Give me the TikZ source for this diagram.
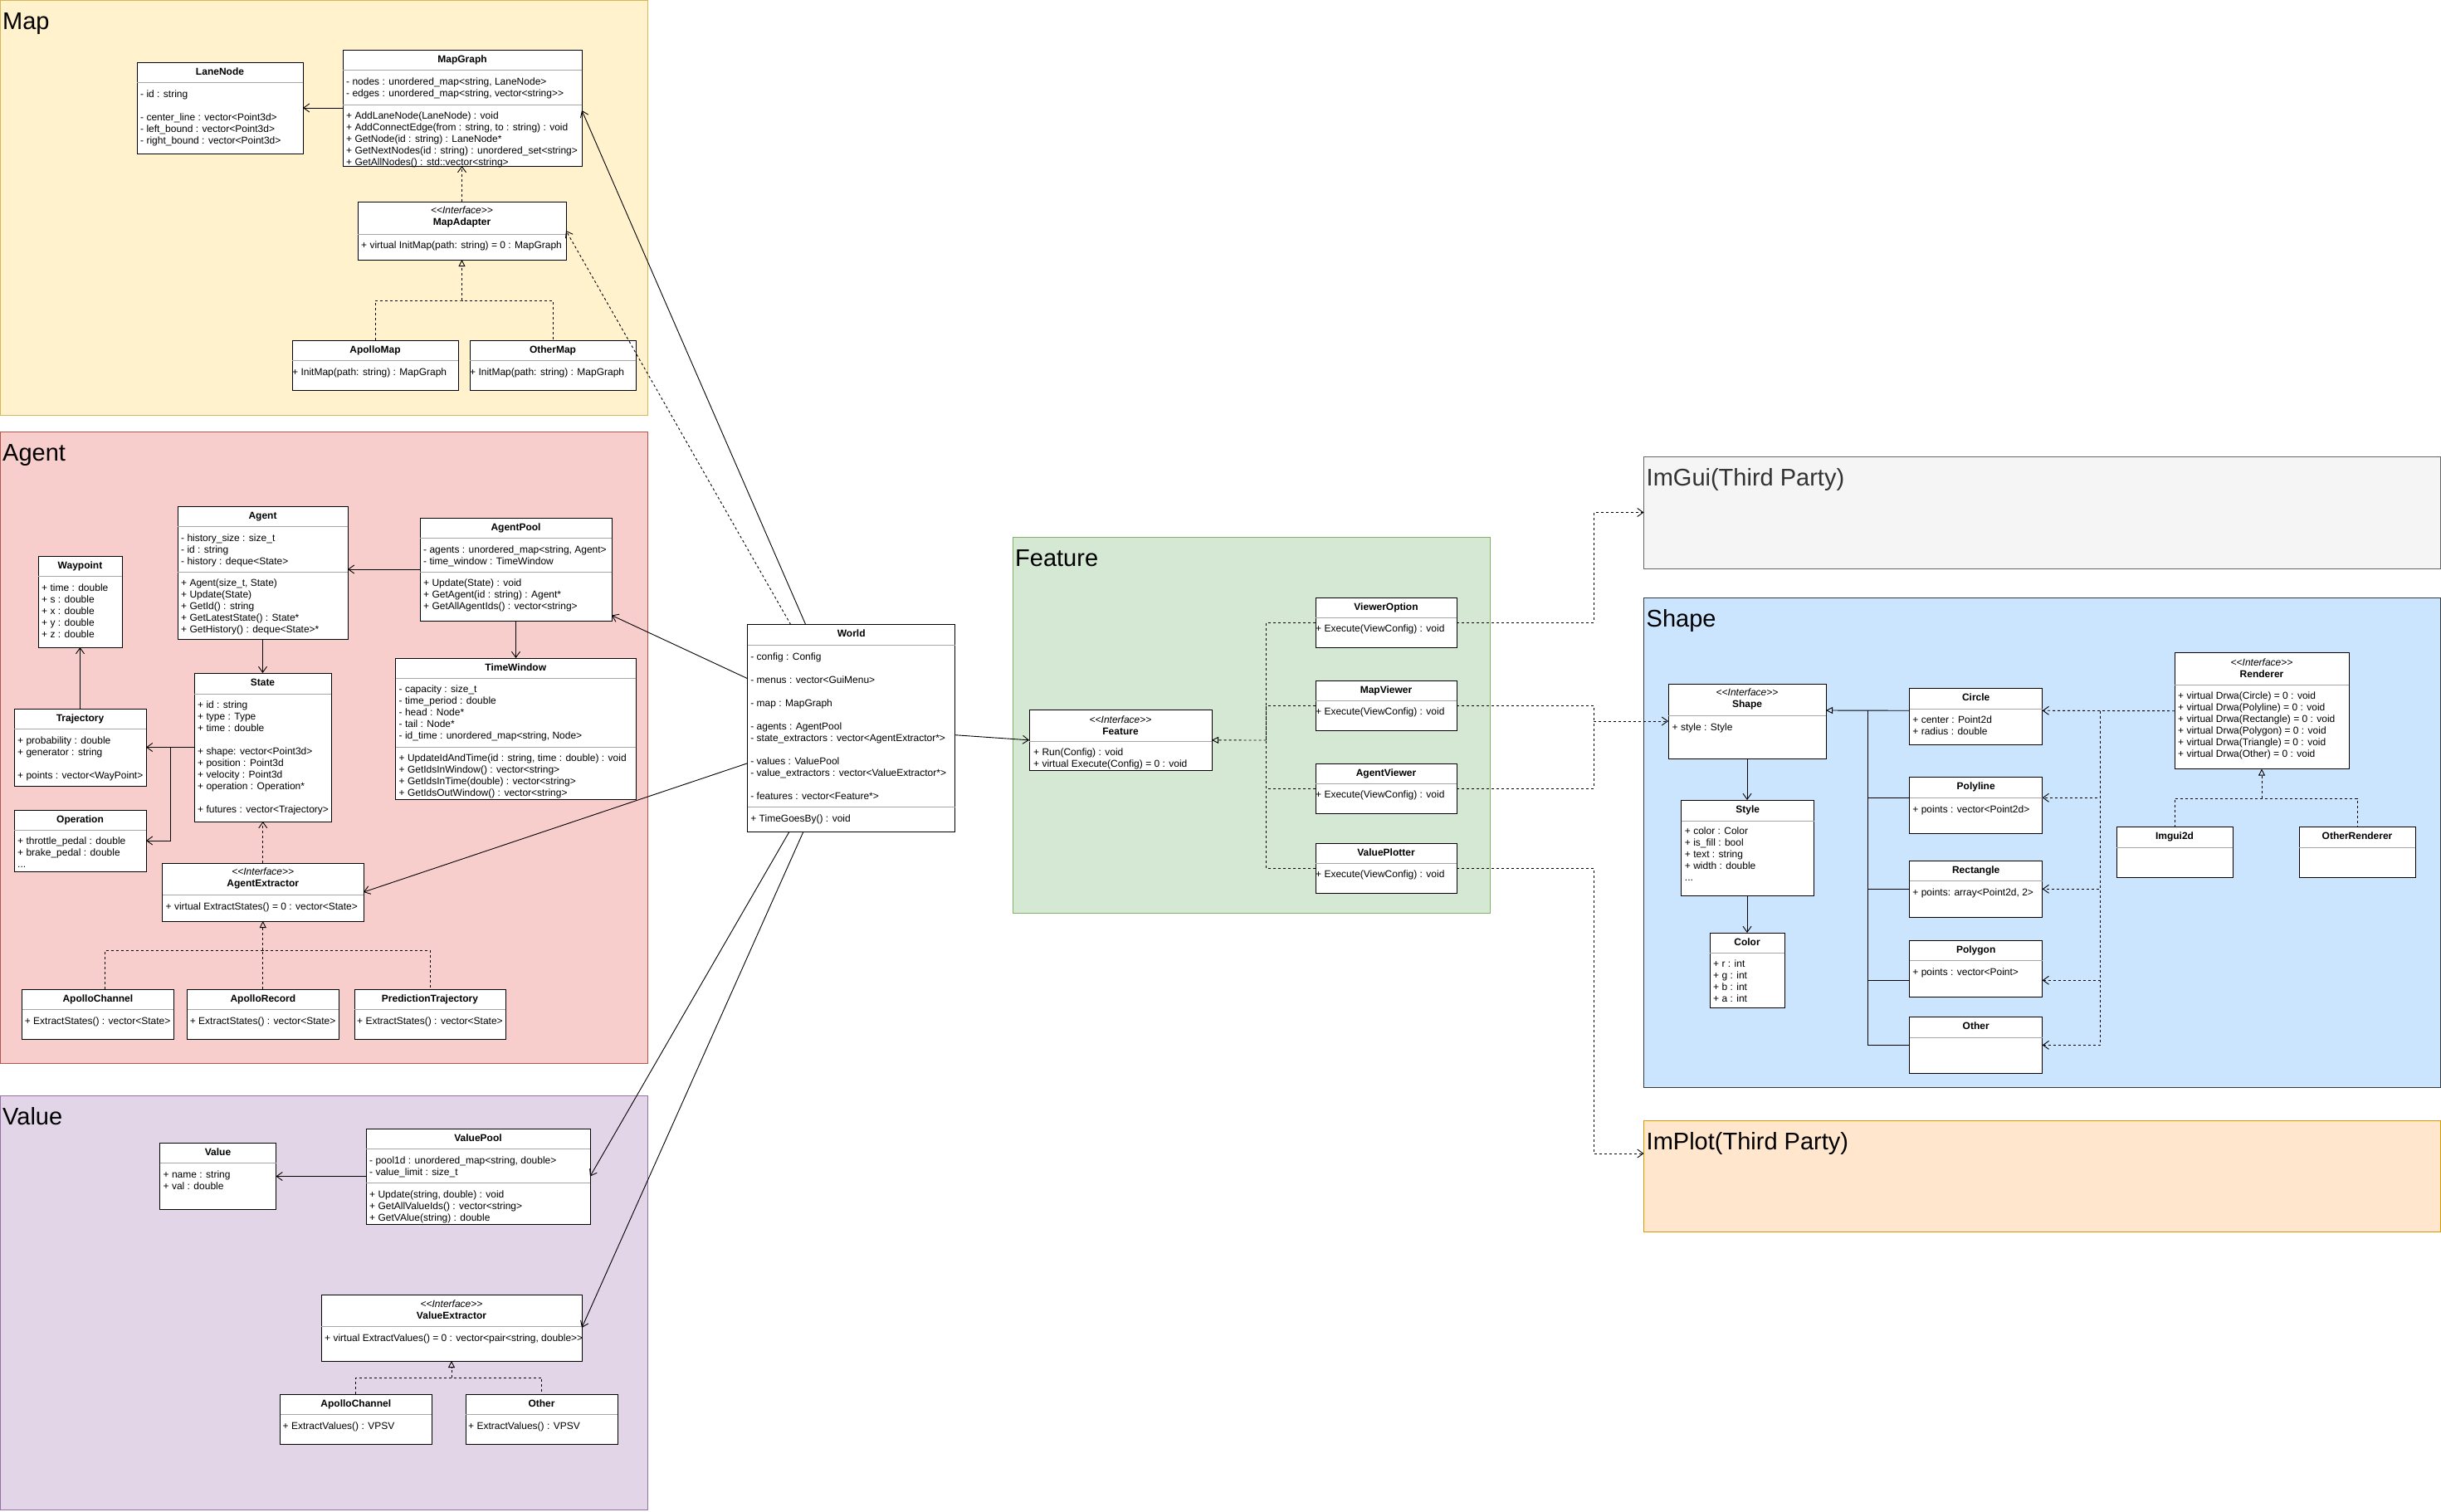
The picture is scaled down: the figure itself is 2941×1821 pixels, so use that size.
\documentclass[tikz,border=0pt]{standalone}
\usepackage{fontspec}
\newfontfamily\umlfont{Liberation Sans}
\usepackage{tikz}
\usetikzlibrary{calc,arrows.meta}

\definecolor{mapfill}{HTML}{FFF2CC}\definecolor{mapline}{HTML}{D6B656}
\definecolor{agentfill}{HTML}{F8CECC}\definecolor{agentline}{HTML}{B85450}
\definecolor{valuefill}{HTML}{E1D5E7}\definecolor{valueline}{HTML}{9673A6}
\definecolor{featfill}{HTML}{D5E8D4}\definecolor{featline}{HTML}{82B366}
\definecolor{guifill}{HTML}{F5F5F5}\definecolor{guiline}{HTML}{666666}\definecolor{guitext}{HTML}{333333}
\definecolor{shapefill}{HTML}{CCE5FF}\definecolor{shapeline}{HTML}{36393D}
\definecolor{plotfill}{HTML}{FFE6CC}\definecolor{plotline}{HTML}{D79B00}

\newcommand{\mstrut}{\rule{0pt}{10pt}}
% class box: name, x, y, width, height, header height
\newcommand{\umlbox}[6]{%
  \node[clsbox,minimum width=#4,minimum height=#5] (#1) at (#2,#3) {};
  \draw[sepline] ($(#1.north west)+(0,#6)$) -- ($(#1.north east)+(0,#6)$);}
\newcommand{\umlsep}[2]{%
  \draw[sepline] ($(#1.north west)+(0,#2)$) -- ($(#1.north east)+(0,#2)$);}

\tikzset{
  clsbox/.style={draw=black,fill=white,line width=1pt,anchor=north west,inner sep=0pt,outer sep=0pt},
  sepline/.style={draw=black!35,line width=0.8pt},
  ttl/.style={font=\umlfont\bfseries\fontsize{12}{14}\selectfont,inner sep=0pt,text height=9pt,text depth=2.5pt},
  ittl/.style={font=\umlfont\fontsize{12}{14}\selectfont,inner sep=0pt,align=center},
  members/.style={font=\umlfont\fontsize{12}{14}\selectfont,inner sep=0pt,anchor=north west,align=left},
  grp/.style={line width=1pt,anchor=north west,inner sep=0pt,outer sep=0pt},
  grptitle/.style={font=\umlfont\fontsize{29}{34}\selectfont,anchor=base west,inner sep=0pt},
  link/.style={line width=0.9pt},
  assoc/.style={link,-{Straight Barb[length=7pt,width=10pt]}},
  dashline/.style={link,dash pattern=on 3pt off 3pt},
  dep/.style={assoc,dash pattern=on 3pt off 3pt},
  real/.style={dashline,-{Triangle[open,length=8pt,width=8pt]}},
  inh/.style={link,-{Triangle[open,length=8pt,width=8pt]}}
}

\begin{document}
\begin{tikzpicture}[x=1pt,y=-1pt]
\useasboundingbox (0,0) rectangle (2941,1821);

% packages
\node[grp,fill=mapfill,draw=mapline,minimum width=780,minimum height=500] (mapgrp) at (0,0) {};
\node[grptitle] (mapgrp-t) at ($(mapgrp.north west)+(3,35)$) {Map};
\node[grp,fill=agentfill,draw=agentline,minimum width=780,minimum height=761] (agentgrp) at (0,520) {};
\node[grptitle] (agentgrp-t) at ($(agentgrp.north west)+(3,35)$) {Agent};
\node[grp,fill=valuefill,draw=valueline,minimum width=780,minimum height=499] (valuegrp) at (0,1320) {};
\node[grptitle] (valuegrp-t) at ($(valuegrp.north west)+(3,35)$) {Value};
\node[grp,fill=featfill,draw=featline,minimum width=575,minimum height=453] (featgrp) at (1220,647) {};
\node[grptitle] (featgrp-t) at ($(featgrp.north west)+(3,35)$) {Feature};
\node[grp,fill=guifill,draw=guiline,minimum width=959.5,minimum height=135] (imgui) at (1980.5,550) {};
\node[grptitle,text=guitext] (imgui-t) at ($(imgui.north west)+(3,35)$) {ImGui(Third Party)};
\node[grp,fill=shapefill,draw=shapeline,minimum width=959.5,minimum height=590] (shapegrp) at (1980.5,720) {};
\node[grptitle] (shapegrp-t) at ($(shapegrp.north west)+(3,35)$) {Shape};
\node[grp,fill=plotfill,draw=plotline,minimum width=959.5,minimum height=134] (implot) at (1980.5,1350) {};
\node[grptitle] (implot-t) at ($(implot.north west)+(3,35)$) {ImPlot(Third Party)};

% Map
\umlbox{lanenode}{165}{75}{200}{110}{24}
\node[ttl] (lanenode-t) at ($(lanenode.north)+(0,12)$) {LaneNode};
\node[members] (lanenode-a) at ($(lanenode.north west)+(4,32)$) {\mstrut- id : string\\ \\- center\_line : vector<Point3d>\\- left\_bound : vector<Point3d>\\- right\_bound : vector<Point3d>};
\umlbox{mapgraph}{413}{60}{288}{140}{24}
\umlsep{mapgraph}{66}
\node[ttl] (mapgraph-t) at ($(mapgraph.north)+(0,12)$) {MapGraph};
\node[members] (mapgraph-a) at ($(mapgraph.north west)+(4,32)$) {\mstrut- nodes : unordered\_map<string, LaneNode>\\- edges : unordered\_map<string, vector<string>>};
\node[members] (mapgraph-m) at ($(mapgraph.north west)+(4,73)$) {\mstrut+ AddLaneNode(LaneNode) : void\\+ AddConnectEdge(from : string, to : string) : void\\+ GetNode(id : string) : LaneNode*\\+ GetNextNodes(id : string) : unordered\_set<string>\\+ GetAllNodes() : std::vector<string>};
\umlbox{mapadapter}{431}{243}{251}{70}{39}
\node[ittl] (mapadapter-t) at ($(mapadapter.north)+(0,18)$) {\textit{<<Interface>>}\\\textbf{MapAdapter}};
\node[members] (mapadapter-m) at ($(mapadapter.north west)+(4,46)$) {\mstrut+ virtual InitMap(path: string) = 0 : MapGraph};
\umlbox{apollomap}{352}{410}{200}{60}{24}
\node[ttl] (apollomap-t) at ($(apollomap.north)+(0,12)$) {ApolloMap};
\node[members] (apollomap-m) at ($(apollomap.north west)+(0,32)$) {\mstrut+ InitMap(path: string) : MapGraph};
\umlbox{othermap}{566}{410}{200}{60}{24}
\node[ttl] (othermap-t) at ($(othermap.north)+(0,12)$) {OtherMap};
\node[members] (othermap-m) at ($(othermap.north west)+(0,32)$) {\mstrut+ InitMap(path: string) : MapGraph};

% Agent
\umlbox{agent}{214}{610}{205}{160}{24}
\umlsep{agent}{79}
\node[ttl] (agent-t) at ($(agent.north)+(0,12)$) {Agent};
\node[members] (agent-a) at ($(agent.north west)+(4,32)$) {\mstrut- history\_size : size\_t\\- id : string\\- history : deque<State>};
\node[members] (agent-m) at ($(agent.north west)+(4,86.5)$) {\mstrut+ Agent(size\_t, State)\\+ Update(State)\\+ GetId() : string\\+ GetLatestState() : State*\\+ GetHistory() : deque<State>*};
\umlbox{agentpool}{506}{624}{231}{124}{24.5}
\umlsep{agentpool}{65}
\node[ttl] (agentpool-t) at ($(agentpool.north)+(0,12)$) {AgentPool};
\node[members] (agentpool-a) at ($(agentpool.north west)+(4,32)$) {\mstrut- agents : unordered\_map<string, Agent>\\- time\_window : TimeWindow};
\node[members] (agentpool-m) at ($(agentpool.north west)+(4,72)$) {\mstrut+ Update(State) : void\\+ GetAgent(id : string) : Agent*\\+ GetAllAgentIds() : vector<string>};
\umlbox{waypoint}{46}{670}{101}{110}{24.5}
\node[ttl] (waypoint-t) at ($(waypoint.north)+(0,12)$) {Waypoint};
\node[members] (waypoint-a) at ($(waypoint.north west)+(4,32)$) {\mstrut+ time : double\\+ s : double\\+ x : double\\+ y : double\\+ z : double};
\umlbox{trajectory}{17}{854}{159}{93}{24.5}
\node[ttl] (trajectory-t) at ($(trajectory.north)+(0,12)$) {Trajectory};
\node[members] (trajectory-a) at ($(trajectory.north west)+(4,32)$) {\mstrut+ probability : double\\+ generator : string\\ \\+ points : vector<WayPoint>};
\umlbox{operation}{17}{976}{159}{74}{24}
\node[ttl] (operation-t) at ($(operation.north)+(0,12)$) {Operation};
\node[members] (operation-a) at ($(operation.north west)+(4,31.6)$) {\mstrut+ throttle\_pedal : double\\+ brake\_pedal : double\\...};
\umlbox{state}{234}{811}{165}{179}{25}
\node[ttl] (state-t) at ($(state.north)+(0,12.5)$) {State};
\node[members] (state-a) at ($(state.north west)+(4,32)$) {\mstrut+ id : string\\+ type : Type\\+ time : double\\ \\+ shape: vector<Point3d>\\+ position : Point3d\\+ velocity : Point3d\\+ operation : Operation*\\ \\+ futures : vector<Trajectory>};
\umlbox{timewindow}{476.5}{793}{289.5}{170}{24}
\umlsep{timewindow}{107}
\node[ttl] (timewindow-t) at ($(timewindow.north)+(0,12)$) {TimeWindow};
\node[members] (timewindow-a) at ($(timewindow.north west)+(4,31.7)$) {\mstrut- capacity : size\_t\\- time\_period : double\\- head : Node*\\- tail : Node*\\- id\_time : unordered\_map<string, Node>};
\node[members] (timewindow-m) at ($(timewindow.north west)+(4,114)$) {\mstrut+ UpdateIdAndTime(id : string, time : double) : void\\+ GetIdsInWindow() : vector<string>\\+ GetIdsInTime(double) : vector<string>\\+ GetIdsOutWindow() : vector<string>};
\umlbox{agentextractor}{195.5}{1040}{242.5}{70}{38}
\node[ittl] (agentextractor-t) at ($(agentextractor.north)+(0,18)$) {\textit{<<Interface>>}\\\textbf{AgentExtractor}};
\node[members] (agentextractor-m) at ($(agentextractor.north west)+(4,46)$) {\mstrut+ virtual ExtractStates() = 0 : vector<State>};
\umlbox{achannel}{26.7}{1192}{182.3}{60}{24}
\node[ttl] (achannel-t) at ($(achannel.north)+(0,12)$) {ApolloChannel};
\node[members] (achannel-m) at ($(achannel.north west)+(3,32)$) {\mstrut+ ExtractStates() : vector<State>};
\umlbox{arecord}{225.7}{1192}{182.3}{60}{24}
\node[ttl] (arecord-t) at ($(arecord.north)+(0,12)$) {ApolloRecord};
\node[members] (arecord-m) at ($(arecord.north west)+(3,32)$) {\mstrut+ ExtractStates() : vector<State>};
\umlbox{predtraj}{427}{1192}{182}{60}{24}
\node[ttl] (predtraj-t) at ($(predtraj.north)+(0,12)$) {PredictionTrajectory};
\node[members] (predtraj-m) at ($(predtraj.north west)+(3,32)$) {\mstrut+ ExtractStates() : vector<State>};

% Value
\umlbox{value}{192.5}{1377}{140}{80}{24}
\node[ttl] (value-t) at ($(value.north)+(0,12)$) {Value};
\node[members] (value-a) at ($(value.north west)+(4,32)$) {\mstrut+ name : string\\+ val : double};
\umlbox{valuepool}{441}{1360}{270}{115}{24}
\umlsep{valuepool}{65}
\node[ttl] (valuepool-t) at ($(valuepool.north)+(0,12)$) {ValuePool};
\node[members] (valuepool-a) at ($(valuepool.north west)+(4,32)$) {\mstrut- pool1d : unordered\_map<string, double>\\- value\_limit : size\_t};
\node[members] (valuepool-m) at ($(valuepool.north west)+(4,73)$) {\mstrut+ Update(string, double) : void\\+ GetAllValueIds() : vector<string>\\+ GetVAlue(string) : double};
\umlbox{valueextractor}{387}{1560}{314}{80}{38}
\node[ittl] (valueextractor-t) at ($(valueextractor.north)+(0,18)$) {\textit{<<Interface>>}\\\textbf{ValueExtractor}};
\node[members] (valueextractor-m) at ($(valueextractor.north west)+(4,46)$) {\mstrut+ virtual ExtractValues() = 0 : vector<pair<string, double>>};
\umlbox{vchannel}{337.5}{1680}{182.5}{60}{24}
\node[ttl] (vchannel-t) at ($(vchannel.north)+(0,12)$) {ApolloChannel};
\node[members] (vchannel-m) at ($(vchannel.north west)+(3,32)$) {\mstrut+ ExtractValues() : VPSV};
\umlbox{vother}{561}{1680}{183}{60}{24}
\node[ttl] (vother-t) at ($(vother.north)+(0,12)$) {Other};
\node[members] (vother-m) at ($(vother.north west)+(3,32)$) {\mstrut+ ExtractValues() : VPSV};

% World
\umlbox{world}{900.7}{752.7}{250}{250}{24.3}
\umlsep{world}{219.3}
\node[ttl] (world-t) at ($(world.north)+(0,12)$) {World};
\node[members] (world-a) at ($(world.north west)+(3.5,32.3)$) {\mstrut- config : Config\\ \\- menus : vector<GuiMenu>\\ \\- map : MapGraph\\ \\- agents : AgentPool\\- state\_extractors : vector<AgentExtractor*>\\ \\- values : ValuePool\\- value\_extractors : vector<ValueExtractor*>\\ \\- features : vector<Feature*>};
\node[members] (world-m) at ($(world.north west)+(3.5,227.3)$) {\mstrut+ TimeGoesBy() : void};

% Feature
\umlbox{feature}{1240}{855.7}{220}{72.3}{37.3}
\node[ittl] (feature-t) at ($(feature.north)+(0,18)$) {\textit{<<Interface>>}\\\textbf{Feature}};
\node[members] (feature-m) at ($(feature.north west)+(5,45)$) {\mstrut+ Run(Config) : void\\+ virtual Execute(Config) = 0 : void};
\umlbox{vieweropt}{1585}{720}{170}{60}{24}
\node[ttl] (vieweropt-t) at ($(vieweropt.north)+(0,12)$) {ViewerOption};
\node[members] (vieweropt-m) at ($(vieweropt.north west)+(0,31.7)$) {\mstrut+ Execute(ViewConfig) : void};
\umlbox{mapviewer}{1585}{820}{170}{60}{24}
\node[ttl] (mapviewer-t) at ($(mapviewer.north)+(0,12)$) {MapViewer};
\node[members] (mapviewer-m) at ($(mapviewer.north west)+(0,31.7)$) {\mstrut+ Execute(ViewConfig) : void};
\umlbox{agentviewer}{1585}{920}{170}{60}{24}
\node[ttl] (agentviewer-t) at ($(agentviewer.north)+(0,12)$) {AgentViewer};
\node[members] (agentviewer-m) at ($(agentviewer.north west)+(0,31.7)$) {\mstrut+ Execute(ViewConfig) : void};
\umlbox{valueplotter}{1585}{1016}{170}{60}{24}
\node[ttl] (valueplotter-t) at ($(valueplotter.north)+(0,12)$) {ValuePlotter};
\node[members] (valueplotter-m) at ($(valueplotter.north west)+(0,31.7)$) {\mstrut+ Execute(ViewConfig) : void};

% Shape
\umlbox{shape}{2010}{824}{190}{90}{38}
\node[ittl] (shape-t) at ($(shape.north)+(0,18)$) {\textit{<<Interface>>}\\\textbf{Shape}};
\node[members] (shape-a) at ($(shape.north west)+(4.5,46)$) {\mstrut+ style : Style};
\umlbox{style}{2025.7}{964}{160}{115}{25}
\node[ttl] (style-t) at ($(style.north)+(0,12.5)$) {Style};
\node[members] (style-a) at ($(style.north west)+(4,31.7)$) {\mstrut+ color : Color\\+ is\_fill : bool\\+ text : string\\+ width : double\\...};
\umlbox{color}{2060}{1124}{90}{90.6}{24}
\node[ttl] (color-t) at ($(color.north)+(0,12)$) {Color};
\node[members] (color-a) at ($(color.north west)+(4,31)$) {\mstrut+ r : int\\+ g : int\\+ b : int\\+ a : int};
\umlbox{circle}{2300.7}{829.5}{160}{67.5}{24.5}
\node[ttl] (circle-t) at ($(circle.north)+(0,12)$) {Circle};
\node[members] (circle-a) at ($(circle.north west)+(3.5,31.5)$) {\mstrut+ center : Point2d\\+ radius : double};
\umlbox{polyline}{2300.7}{936.5}{160}{67.5}{24.5}
\node[ttl] (polyline-t) at ($(polyline.north)+(0,12)$) {Polyline};
\node[members] (polyline-a) at ($(polyline.north west)+(3.5,32.5)$) {\mstrut+ points : vector<Point2d>};
\umlbox{rectangle}{2300.7}{1037.5}{160}{67.5}{23.5}
\node[ttl] (rectangle-t) at ($(rectangle.north)+(0,11.5)$) {Rectangle};
\node[members] (rectangle-a) at ($(rectangle.north west)+(3.5,31.5)$) {\mstrut+ points: array<Point2d, 2>};
\umlbox{polygon}{2300.7}{1133.5}{160}{67.5}{23.5}
\node[ttl] (polygon-t) at ($(polygon.north)+(0,11.5)$) {Polygon};
\node[members] (polygon-a) at ($(polygon.north west)+(3.5,31.5)$) {\mstrut+ points : vector<Point>};
\umlbox{othershape}{2300.7}{1225.6}{160}{67.5}{25}
\node[ttl] (othershape-t) at ($(othershape.north)+(0,12)$) {Other};
\umlbox{renderer}{2620}{786.8}{210}{139.8}{38.2}
\node[ittl] (renderer-t) at ($(renderer.north)+(0,18)$) {\textit{<<Interface>>}\\\textbf{Renderer}};
\node[members] (renderer-m) at ($(renderer.north west)+(4,45.7)$) {\mstrut+ virtual Drwa(Circle) = 0 : void\\+ virtual Drwa(Polyline) = 0 : void\\+ virtual Drwa(Rectangle) = 0 : void\\+ virtual Drwa(Polygon) = 0 : void\\+ virtual Drwa(Triangle) = 0 : void\\+ virtual Drwa(Other) = 0 : void};
\umlbox{imgui2d}{2550}{996.7}{140}{60.3}{25}
\node[ttl] (imgui2d-t) at ($(imgui2d.north)+(0,12)$) {Imgui2d};
\umlbox{otherrenderer}{2770}{996.7}{140}{60.3}{25}
\node[ttl] (otherrenderer-t) at ($(otherrenderer.north)+(0,12)$) {OtherRenderer};

% links: map
\draw[assoc] (mapgraph) -- (lanenode);
\draw[dep] (mapadapter.north) -- (mapadapter.north |- mapgraph.south);
\coordinate (mapjoin) at (556.5,362);
\draw[dashline] (apollomap.north) |- (mapjoin) -| (othermap.north);
\draw[real] (mapjoin) -- (mapadapter.south);
\draw[assoc] ([xshift=-55pt]world.north) -- ([yshift=-3pt]mapgraph.east);
\draw[dep] ([xshift=-73pt]world.north) -- (mapadapter.east);

% links: agent
\draw[assoc] (agentpool.west) -- (agentpool.west -| agent.east);
\draw[assoc] (agentpool.south) -- (agentpool.south |- timewindow.north);
\draw[assoc] (agent.south) -- (agent.south |- state.north);
\draw[assoc] (state.west) -- (trajectory.east);
\draw[assoc] (state.west) -- ++(-29,0) |- (operation.east);
\draw[assoc] (trajectory.north) -- (trajectory.north |- waypoint.south);
\draw[dep] (agentextractor.north) -- (agentextractor.north |- state.south);
\coordinate (agentjoin) at (316.75,1145);
\draw[dashline] ([xshift=9pt]achannel.north) |- (agentjoin) -| (predtraj.north);
\draw[dashline] (arecord.north) -- (arecord.north |- agentjoin);
\draw[real] (agentjoin) -- (agentextractor.south);
\draw[assoc] ([yshift=60pt]world.west) -- ([yshift=6.5pt]agentpool.south east);
\draw[assoc] ([yshift=-42pt]world.west) -- (agentextractor.east);

% links: value
\draw[assoc] (valuepool.west) -- (valuepool.west -| value.east);
\coordinate (valuejoin) at (544,1660);
\draw[dashline] (vchannel.north) |- (valuejoin) -| (vother.north);
\draw[real] (valuejoin) -- (valueextractor.south);
\draw[assoc] ([xshift=-75pt]world.south) -- (valuepool.east);
\draw[assoc] ([xshift=-58pt]world.south) -- (valueextractor.east);

% links: feature
\draw[assoc] ([yshift=-8pt]world.east) -- (feature.west);
\coordinate (featjoin) at (1525.5,892);
\foreach \f in {vieweropt,mapviewer,agentviewer,valueplotter}
  \draw[dashline] ([yshift=-30pt]\f.north west) -| (featjoin);
\draw[real] (featjoin) -- (feature.east);
\coordinate (guiin) at (1920,617.5);
\coordinate (shapein) at (1920,869);
\coordinate (plotin) at (1920,1390);
\draw[dep] ([yshift=-30pt]vieweropt.north east) -| (guiin) -- (imgui.west);
\draw[dashline] ([yshift=-30pt]mapviewer.north east) -| (shapein);
\draw[dep] ([yshift=-30pt]agentviewer.north east) -| (shapein) -- (shape.west);
\draw[dep] ([yshift=-30pt]valueplotter.north east) -| (plotin) -- (plotin -| implot.west);

% links: shape
\draw[assoc] (shape.south) -- (shape.south |- style.north);
\draw[assoc] (color.north |- style.south) -- (color.north);
\coordinate (shapejoin) at (2250.5,856);
\draw[inh] ([yshift=7pt]circle.west) -- ([yshift=13pt]shape.east);
\draw[link] ([yshift=9pt]polyline.west) -| (shapejoin);
\draw[link] (rectangle.west) -| (shapejoin);
\draw[link] ([yshift=-14pt]polygon.west) -| (shapejoin);
\draw[link] (othershape.west) -| (shapejoin);
\coordinate (rendjoin) at (2530,856.5);
\draw[dashline] (renderer.west) -- (rendjoin);
\draw[dep] (rendjoin) -- ([yshift=7pt]circle.east);
\draw[dep] (rendjoin) |- ([yshift=9pt]polyline.east);
\draw[dep] (rendjoin) |- (rectangle.east);
\draw[dep] (rendjoin) |- ([yshift=-14pt]polygon.east);
\draw[dep] (rendjoin) |- (othershape.east);
\coordinate (rendjoin2) at (2725,962);
\draw[dashline] (imgui2d.north) |- (rendjoin2) -| (otherrenderer.north);
\draw[real] (rendjoin2) -- (renderer.south);
\end{tikzpicture}
\end{document}
